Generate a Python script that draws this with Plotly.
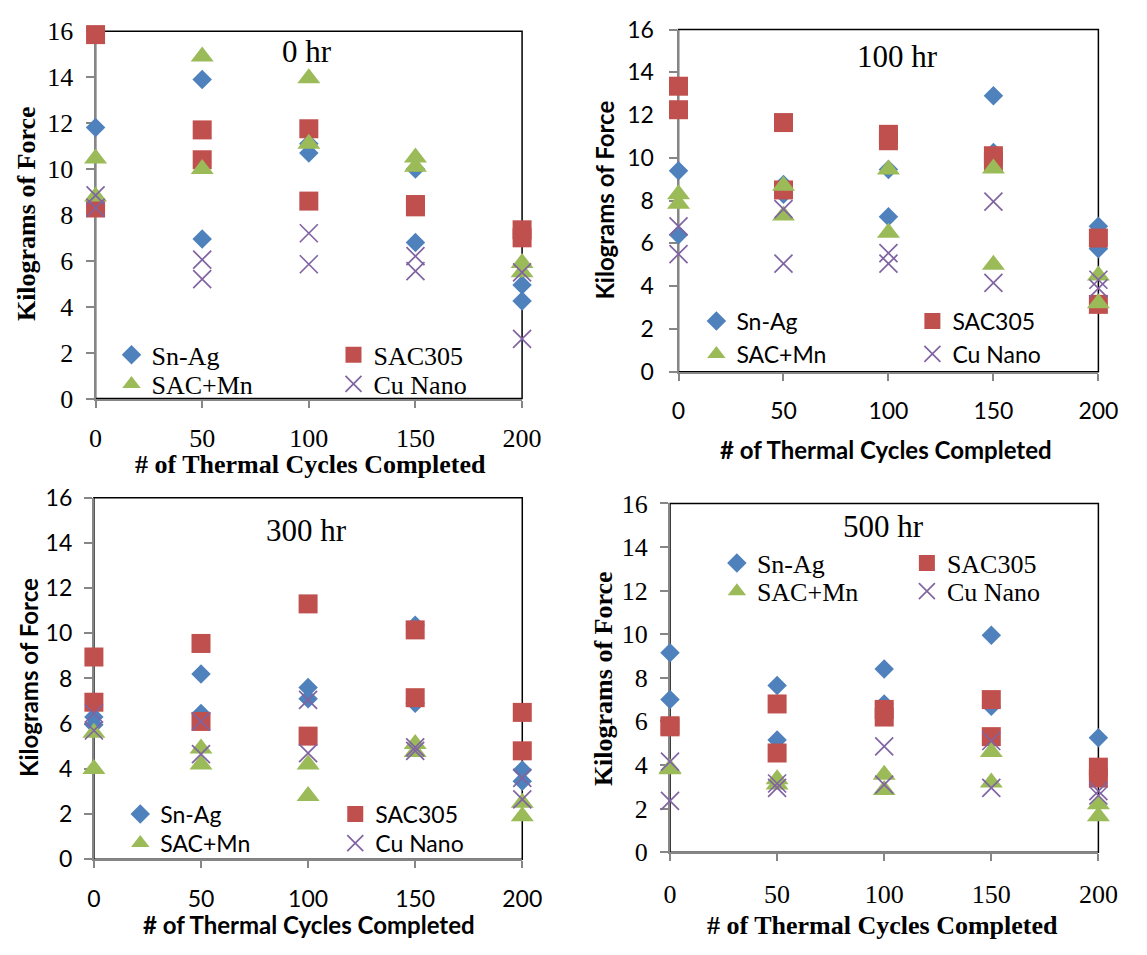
import plotly.graph_objects as go

W, H = 1147, 955

cycles = [0, 50, 100, 150, 200]
series_names = ["Sn-Ag", "SAC305", "SAC+Mn", "Cu Nano"]

# Pull force (kgf) per cycle count, replicate joints listed at each cycle count
# ---- 0 hr aging ----
snag_0hr = [[11.8, 8.4], [13.9, 6.95], [11.1, 10.7], [10.0, 6.8], [4.95, 4.25]]
sac305_0hr = [[15.85, 8.3], [11.7, 10.4], [11.75, 8.6], [8.45, 8.35], [7.35, 7.0]]
sacmn_0hr = [[10.45, 8.8], [14.9, 10.0], [13.95, 11.1], [10.5, 10.1], [5.9, 5.5]]
cunano_0hr = [[8.85, 8.3], [6.05, 5.2], [7.2, 5.85], [6.2, 5.55], [5.5, 2.6]]
# ---- 100 hr aging ----
snag_100hr = [[9.4, 6.4], [8.75, 8.3], [9.45, 7.25], [12.9, 10.25], [6.8, 5.75]]
sac305_100hr = [[13.35, 12.25], [11.65, 8.5], [11.1, 10.8], [10.1, 9.8], [6.25, 3.15]]
sacmn_100hr = [[8.3, 7.85], [8.7, 7.3], [9.45, 6.5], [9.5, 5.0], [4.5, 3.2]]
cunano_100hr = [[6.8, 5.5], [7.6, 5.05], [5.55, 5.05], [7.95, 4.15], [4.3, 3.9]]
# ---- 300 hr aging ----
snag_300hr = [[6.3, 5.95], [8.2, 6.45], [7.6, 7.1], [10.35, 6.9], [3.95, 3.45]]
sac305_300hr = [[8.95, 6.95], [9.55, 6.1], [11.3, 5.45], [10.15, 7.15], [6.5, 4.8]]
sacmn_300hr = [[5.6, 4.0], [4.9, 4.2], [4.2, 2.8], [5.1, 4.75], [2.5, 1.9]]
cunano_300hr = [[6.45, 5.7], [6.1, 4.65], [7.05, 4.7], [4.95, 4.8], [3.6, 2.65]]
# ---- 500 hr aging ----
snag_500hr = [[9.15, 7.0], [7.65, 5.15], [8.4, 6.8], [9.95, 6.7], [5.25, 3.6]]
sac305_500hr = [[5.8, 5.75], [6.8, 4.55], [6.55, 6.2], [7.0, 5.3], [3.9, 3.4]]
sacmn_500hr = [[3.85, 3.8], [3.35, 3.1], [3.55, 2.85], [4.6, 3.2], [2.2, 1.65]]
cunano_500hr = [[4.15, 2.35], [3.15, 2.95], [4.85, 3.1], [5.1, 2.95], [2.8, 2.6]]

panel_titles = ["0 hr", "100 hr", "300 hr", "500 hr"]
y_ticks = [0, 2, 4, 6, 8, 10, 12, 14, 16]
x_title = "# of Thermal Cycles Completed"
y_title = "Kilograms of Force"

SERIF = "Liberation Serif, Times New Roman, serif"
SANS = "Lato, Open Sans, sans-serif"

# pixel placement of each panel's plot area, titles and legend rows
panels = [
    dict(data=[snag_0hr, sac305_0hr, sacmn_0hr, cunano_0hr], font=SERIF,
         px_x=(90.7, 527.5), px_y=(396.0, 16.7), tick_size=26, leg_size=26,
         xt_size=26, yt_size=26, ytick_gap=7, xtick_gap=8,
         title_xy=(307, 38), xt_xy=(311, 464), yt_xy=(20, 205),
         leg_rows=(351, 381), leg_cols=(133, 355)),
    dict(data=[snag_100hr, sac305_100hr, sacmn_100hr, cunano_100hr], font=SANS,
         px_x=(687.7, 1117.7), px_y=(368.3, 15.0), tick_size=23, leg_size=23,
         xt_size=24, yt_size=24, ytick_gap=10, xtick_gap=11,
         title_xy=(912, 43), xt_xy=(900, 449), yt_xy=(612, 191),
         leg_rows=(316, 350), leg_cols=(732, 948)),
    dict(data=[snag_300hr, sac305_300hr, sacmn_300hr, cunano_300hr], font=SANS,
         px_x=(89.0, 527.7), px_y=(871.7, 498.3), tick_size=23, leg_size=23,
         xt_size=24, yt_size=24, ytick_gap=7, xtick_gap=11,
         title_xy=(307, 532), xt_xy=(309, 939), yt_xy=(22, 684),
         leg_rows=(825, 855), leg_cols=(142, 357)),
    dict(data=[snag_500hr, sac305_500hr, sacmn_500hr, cunano_500hr], font=SERIF,
         px_x=(679.0, 1117.7), px_y=(864.3, 504.3), tick_size=26, leg_size=26,
         xt_size=26, yt_size=26, ytick_gap=7, xtick_gap=11,
         title_xy=(898, 528), xt_xy=(897, 940), yt_xy=(611, 685),
         leg_rows=(566, 595), leg_cols=(753, 943)),
]

styles = [
    dict(symbol="diamond", size=15, color="#4F81BD"),
    dict(symbol="square", size=19, color="#C0504D"),
    dict(symbol="triangle-up", size=20, color="#9BBB59"),
    dict(symbol="x-thin", size=18, color="#8064A2"),
]


def fx(p):
    return p / W


def fy(p):
    return 1 - p / H


fig = go.Figure()
layout = dict(width=W, height=H, margin=dict(l=0, r=0, t=0, b=0),
              paper_bgcolor="white", plot_bgcolor="white", showlegend=True)
annotations = []
shapes = []

for i, p in enumerate(panels):
    n = i + 1
    xa = "x" if n == 1 else f"x{n}"
    ya = "y" if n == 1 else f"y{n}"
    leg_a = "legend" if n == 1 else f"legend{2 * n - 1}"
    leg_b = f"legend{2 * n}"

    for s, (vals, st, name) in enumerate(zip(p["data"], styles, series_names)):
        xs, ys = [], []
        for c, reps in zip(cycles, vals):
            for v in reps:
                xs.append(c)
                ys.append(v)
        marker = dict(symbol=st["symbol"], size=st["size"], color=st["color"])
        if st["symbol"] == "x-thin":
            marker["line"] = dict(color=st["color"], width=1.7)
        else:
            marker["line"] = dict(width=0)
        fig.add_trace(go.Scatter(
            x=xs, y=ys, mode="markers", name=name, marker=marker,
            xaxis=xa, yaxis=ya, cliponaxis=False,
            legend=leg_a if s < 2 else leg_b, hoverinfo="skip"))

    ax_key = "xaxis" if n == 1 else f"xaxis{n}"
    ay_key = "yaxis" if n == 1 else f"yaxis{n}"
    layout[ax_key] = dict(
        domain=[fx(p["px_x"][0]), fx(p["px_x"][1])], range=[0, 200],
        tickvals=cycles, anchor=ya, showgrid=False, zeroline=False,
        showline=True, linecolor="#868686", linewidth=2, layer="below traces",
        ticks="outside", ticklen=7, tickwidth=1.5, tickcolor="#868686",
        ticklabelstandoff=p["xtick_gap"],
        tickfont=dict(family=p["font"], size=p["tick_size"], color="black"))
    layout[ay_key] = dict(
        domain=[fy(p["px_y"][0]), fy(p["px_y"][1])], range=[0, 16],
        tickvals=y_ticks, anchor=xa, showgrid=False, zeroline=False,
        showline=True, linecolor="#868686", linewidth=2, layer="below traces",
        ticks="outside", ticklen=8, tickwidth=1.5, tickcolor="#868686",
        ticklabelstandoff=p["ytick_gap"],
        tickfont=dict(family=p["font"], size=p["tick_size"], color="black"))

    # plot-area frame (top and right edges show in black)
    shapes.append(dict(type="rect", xref=f"{xa} domain", yref=f"{ya} domain",
                       x0=0, x1=1, y0=0, y1=1, layer="below",
                       line=dict(color="black", width=1.5)))

    annotations.append(dict(text=panel_titles[i], x=fx(p["title_xy"][0]), y=fy(p["title_xy"][1]),
                            xref="paper", yref="paper", showarrow=False,
                            xanchor="center", yanchor="middle",
                            font=dict(family=SERIF, size=31, color="black")))
    annotations.append(dict(text=f"<b>{x_title}</b>", x=fx(p["xt_xy"][0]), y=fy(p["xt_xy"][1]),
                            xref="paper", yref="paper", showarrow=False,
                            xanchor="center", yanchor="middle",
                            font=dict(family=p["font"], size=p["xt_size"], color="black")))
    annotations.append(dict(text=f"<b>{y_title}</b>", x=fx(p["yt_xy"][0]), y=fy(p["yt_xy"][1]),
                            xref="paper", yref="paper", showarrow=False, textangle=-90,
                            xanchor="center", yanchor="middle",
                            font=dict(family=p["font"], size=p["yt_size"], color="black")))

    col_gap = p["leg_cols"][1] - p["leg_cols"][0]
    for key, row_y in ((leg_a, p["leg_rows"][0]), (leg_b, p["leg_rows"][1])):
        layout[key] = dict(
            x=fx(p["leg_cols"][0] - 26), y=fy(row_y), xanchor="left", yanchor="middle",
            orientation="h", entrywidth=col_gap - 45, entrywidthmode="pixels",
            bgcolor="rgba(0,0,0,0)", borderwidth=0, itemclick=False,
            font=dict(family=p["font"], size=p["leg_size"], color="black"),
            tracegroupgap=0)

layout["annotations"] = annotations
layout["shapes"] = shapes
fig.update_layout(**layout)
fig.write_html("out.html")
